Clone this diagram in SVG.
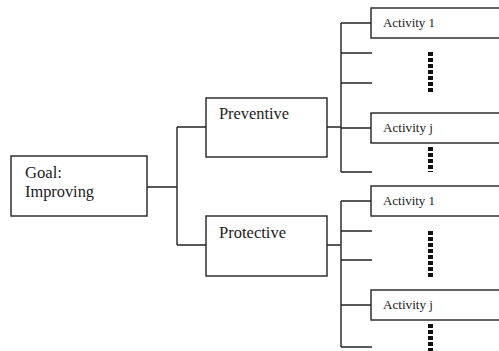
<svg xmlns="http://www.w3.org/2000/svg" width="499" height="351" viewBox="0 0 499 351">
<style>
.box{fill:#fff;stroke:#222;stroke-width:1.4}
.ln{stroke:#222;stroke-width:1.4;fill:none}
.dots{stroke:#111;stroke-width:5;stroke-dasharray:4 2;fill:none}
.t{font-family:'Liberation Serif','Times New Roman','DejaVu Serif',serif;font-size:16px;fill:#222}
.s{font-family:'Liberation Serif','Times New Roman','DejaVu Serif',serif;font-size:13px;fill:#222}
</style>
<rect width="499" height="351" fill="#fff"/>
<g id="connectors">
<path class="ln" d="M147 187H177M177 127V245M177 127H206M177 245H206"/>
<path class="ln" d="M327 127H341M341 23V172M341 23H371M341 53H372M341 83H372M341 128H371M341 172H372"/>
<path class="ln" d="M327 245H341M341 201V347M341 201H371M341 231H372M341 260H372M341 305H371M341 347H372"/>
</g>
<g id="goal"><rect class="box" x="11" y="156" width="136" height="60"/><text class="t" x="25" y="178" textLength="37" lengthAdjust="spacingAndGlyphs">Goal:</text><text class="t" x="25" y="197" textLength="69" lengthAdjust="spacingAndGlyphs">Improving</text></g>
<g id="preventive"><rect class="box" x="206" y="98" width="121" height="59"/><text class="t" x="219" y="119" textLength="70" lengthAdjust="spacingAndGlyphs">Preventive</text></g>
<g id="protective"><rect class="box" x="206" y="216" width="121" height="60"/><text class="t" x="219" y="238" textLength="67" lengthAdjust="spacingAndGlyphs">Protective</text></g>
<g id="prev-act1"><rect class="box" x="371" y="8" width="140" height="30"/><text class="s" x="383" y="27" textLength="52" lengthAdjust="spacingAndGlyphs">Activity 1</text></g>
<g id="prev-actj"><rect class="box" x="371" y="113" width="140" height="30"/><text class="s" x="383" y="132" textLength="50" lengthAdjust="spacingAndGlyphs">Activity j</text></g>
<g id="prot-act1"><rect class="box" x="371" y="186" width="140" height="30"/><text class="s" x="383" y="205" textLength="52" lengthAdjust="spacingAndGlyphs">Activity 1</text></g>
<g id="prot-actj"><rect class="box" x="371" y="290" width="140" height="30"/><text class="s" x="383" y="309" textLength="50" lengthAdjust="spacingAndGlyphs">Activity j</text></g>
<g id="ellipses">
<line class="dots" x1="430.5" y1="52" x2="430.5" y2="94"/>
<line class="dots" x1="430.5" y1="147" x2="430.5" y2="172"/>
<line class="dots" x1="430.5" y1="231" x2="430.5" y2="277"/>
<line class="dots" x1="430.5" y1="324" x2="430.5" y2="351"/>
</g>
</svg>
